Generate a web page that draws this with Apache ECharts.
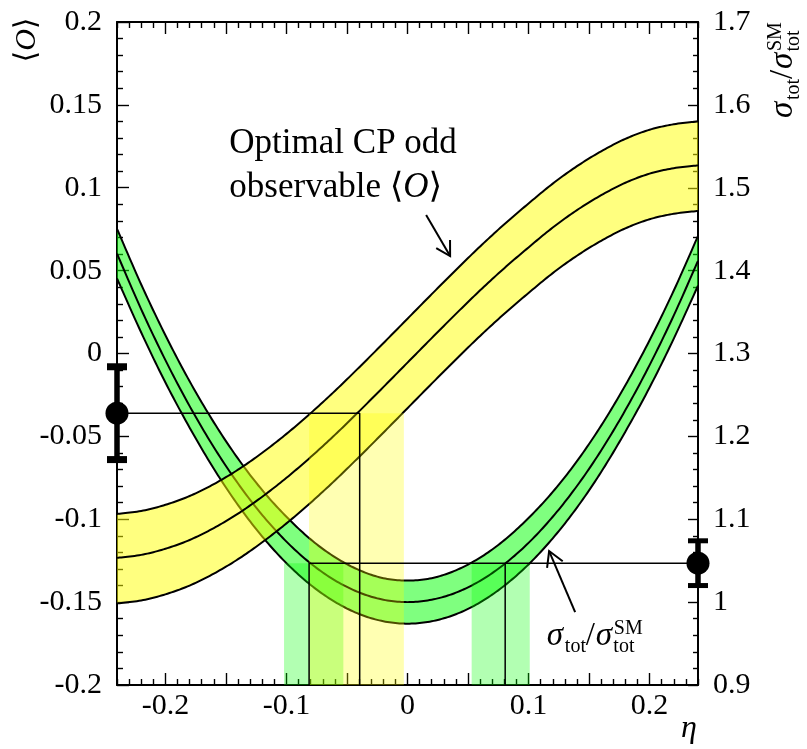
<!DOCTYPE html>
<html><head><meta charset="utf-8">
<script src="https://cdn.jsdelivr.net/npm/echarts@6/dist/echarts.min.js"></script>
<style>html,body{margin:0;padding:0;background:#fff}#c{width:807px;height:749px}</style>
</head><body><div id="c"></div>
<script>
// ---------------- data ----------------
const eta = [-0.24,-0.22,-0.20,-0.18,-0.16,-0.14,-0.12,-0.10,-0.08,-0.06,-0.04,-0.02,0,0.02,0.04,0.06,0.08,0.10,0.12,0.14,0.16,0.18,0.20,0.22,0.24];
// optimal CP-odd observable <O> (left axis)
const oCenter = [-0.1233,-0.1215,-0.1178,-0.1125,-0.1053,-0.0966,-0.0864,-0.0750,-0.0625,-0.0491,-0.0349,-0.0203,-0.0055,0.0093,0.0239,0.0381,0.0515,0.0640,0.0760,0.0865,0.0955,0.1030,0.1085,0.1118,0.1135];
const oUpper  = [-0.0968,-0.0950,-0.0913,-0.0860,-0.0788,-0.0701,-0.0599,-0.0485,-0.0360,-0.0226,-0.0084,0.0062,0.0210,0.0358,0.0504,0.0646,0.0780,0.0905,0.1025,0.1130,0.1220,0.1295,0.1350,0.1383,0.1400];
const oLower  = [-0.1508,-0.1490,-0.1453,-0.1400,-0.1328,-0.1241,-0.1139,-0.1025,-0.0900,-0.0766,-0.0624,-0.0478,-0.0330,-0.0182,-0.0036,0.0106,0.0240,0.0365,0.0485,0.0590,0.0680,0.0755,0.0810,0.0843,0.0860];
// sigma_tot / sigma_tot^SM (right axis)
const sCenter = [1.4205,1.3533,1.2920,1.2365,1.1869,1.1431,1.1051,1.0730,1.0467,1.0263,1.0117,1.0029,1.0000,1.0029,1.0114,1.0257,1.0458,1.0715,1.1030,1.1401,1.1830,1.2317,1.2860,1.3460,1.4118];
const sUpper  = [1.4505,1.3833,1.3220,1.2665,1.2169,1.1731,1.1351,1.1030,1.0757,1.0543,1.0387,1.0289,1.0260,1.0289,1.0384,1.0537,1.0748,1.1015,1.1330,1.1701,1.2130,1.2617,1.3160,1.3760,1.4418];
const sLower  = [1.3905,1.3253,1.2650,1.2105,1.1609,1.1171,1.0791,1.0470,1.0207,1.0003,0.9857,0.9769,0.9740,0.9769,0.9854,0.9997,1.0198,1.0455,1.0770,1.1141,1.1570,1.2057,1.2590,1.3180,1.3818];
// measurements: [eta position, value, error]
const oMeasurement = [-0.24, -0.036, 0.028];
const sMeasurement = [0.24, 1.047, 0.027];
// eta where the central curves meet the measured values
const oCross = -0.0395;
const sCross = [-0.0813, 0.0807];
// allowed eta ranges: [eta from, eta to, value top, value bottom]
const yellowRanges = [[-0.0813, -0.003, -0.036, -0.2]];
const greenRanges = [[-0.102, -0.053, 1.047, 0.9], [0.053, 0.101, 1.047, 0.9]];
// tick labels
const xLabels = [-0.2,-0.1,0,0.1,0.2];
const xMajor = [-0.2,-0.15,-0.1,-0.05,0,0.05,0.1,0.15,0.2];
const xMinor = []; for (let i = -24; i <= 24; i++) if (i % 5 !== 0) xMinor.push(i / 100);

// ---------------- chart ----------------
const FONT = "'Liberation Serif','Times New Roman','DejaVu Serif',serif";
const chart = echarts.init(document.getElementById('c'), null, {renderer: 'canvas'});

function catmull(pts, n) {
  const out = [];
  for (let i = 0; i < pts.length - 1; i++) {
    const p0 = pts[i > 0 ? i - 1 : 0], p1 = pts[i], p2 = pts[i + 1], p3 = pts[i + 2 < pts.length ? i + 2 : pts.length - 1];
    for (let k = 0; k < n; k++) {
      const t = k / n, t2 = t * t, t3 = t2 * t;
      const f = (a, b, c, d) => 0.5 * ((2 * b) + (-a + c) * t + (2 * a - 5 * b + 4 * c - d) * t2 + (-a + 3 * b - 3 * c + d) * t3);
      out.push([f(p0[0], p1[0], p2[0], p3[0]), f(p0[1], p1[1], p2[1], p3[1])]);
    }
  }
  out.push(pts[pts.length - 1]);
  return out;
}

function bandSeries(yIdx, up, mid, lo, fill) {
  return {
    type: 'custom', yAxisIndex: yIdx, clip: false, silent: true,
    data: eta.map((e, i) => [e, mid[i]]), encode: {x: 0, y: 1},
    renderItem(params, api) {
      if (params.dataIndex !== 0) return null;
      const pu = catmull(eta.map((e, i) => api.coord([e, up[i]])), 12);
      const pm = catmull(eta.map((e, i) => api.coord([e, mid[i]])), 12);
      const pl = catmull(eta.map((e, i) => api.coord([e, lo[i]])), 12);
      const ls = {stroke: '#000', lineWidth: 2, fill: 'none'};
      return {type: 'group', children: [
        {type: 'polygon', shape: {points: pu.concat(pl.slice().reverse())}, style: {fill: fill}},
        {type: 'polyline', shape: {points: pu}, style: ls},
        {type: 'polyline', shape: {points: pm}, style: ls},
        {type: 'polyline', shape: {points: pl}, style: ls}
      ]};
    }
  };
}

function rangeSeries(yIdx, ranges, fill) {
  return {
    type: 'custom', yAxisIndex: yIdx, clip: false, silent: true,
    data: ranges, encode: {x: [0, 1], y: [2, 3]},
    renderItem(params, api) {
      const a = api.coord([api.value(0), api.value(2)]);
      const b = api.coord([api.value(1), api.value(3)]);
      return {type: 'rect', shape: {x: a[0], y: a[1], width: b[0] - a[0], height: b[1] - a[1]}, style: {fill: fill}};
    }
  };
}

function errSeries(yIdx, m, capW) {
  return {
    type: 'custom', yAxisIndex: yIdx, clip: false, silent: true, z: 5,
    data: [m], encode: {x: 0, y: 1},
    renderItem(params, api) {
      const x = api.value(0), y = api.value(1), e = api.value(2);
      const t = api.coord([x, y + e]), b = api.coord([x, y - e]);
      const st = {stroke: '#000', lineWidth: 5.5};
      const cs = {stroke: '#000', lineWidth: capW};
      return {type: 'group', children: [
        {type: 'line', shape: {x1: t[0], y1: t[1], x2: b[0], y2: b[1]}, style: st},
        {type: 'line', shape: {x1: t[0] - 10, y1: t[1], x2: t[0] + 10, y2: t[1]}, style: cs},
        {type: 'line', shape: {x1: b[0] - 10, y1: b[1], x2: b[0] + 10, y2: b[1]}, style: cs}
      ]};
    }
  };
}

function lineSeries(yIdx, pts) {
  return {type: 'line', yAxisIndex: yIdx, data: pts, symbol: 'none', silent: true, clip: false, z: 4,
    lineStyle: {color: '#000', width: 1.5}};
}

const tickStyle = {color: '#000', width: 1.4};
function xAx(pos, ticks, len, labels, line) {
  return {type: 'value', min: -0.24, max: 0.24, position: pos,
    axisLine: {show: line, onZero: false, lineStyle: {color: '#000', width: 2}},
    axisTick: {show: true, inside: true, length: len, customValues: ticks, lineStyle: tickStyle},
    axisLabel: labels ? {show: true, customValues: labels, margin: 6, color: '#000', fontSize: 30, fontFamily: FONT} : {show: false},
    splitLine: {show: false}, minorTick: {show: false}};
}
function yAx(pos, min, max, interval, len, mlen, margin) {
  return {type: 'value', min: min, max: max, interval: interval, position: pos,
    axisLine: {show: true, onZero: false, lineStyle: {color: '#000', width: 2}},
    axisTick: {show: true, inside: true, length: len, lineStyle: tickStyle},
    minorTick: {show: true, splitNumber: 5, length: mlen, lineStyle: tickStyle},
    axisLabel: {show: true, margin: margin, color: '#000', fontSize: 30, fontFamily: FONT},
    splitLine: {show: false}, minorSplitLine: {show: false}};
}

chart.setOption({
  animation: false,
  backgroundColor: '#fff',
  grid: {left: 117, right: 109, top: 22, bottom: 64, containLabel: false, outerBoundsMode: 'none'},
  xAxis: [
    xAx('bottom', xMajor, 12, xLabels, true),
    xAx('bottom', xMinor, 6, null, false),
    xAx('top', xMajor, 12, null, true),
    xAx('top', xMinor, 6, null, false)
  ],
  yAxis: [
    yAx('left', -0.2, 0.2, 0.05, 12, 6, 15),
    yAx('right', 0.9, 1.7, 0.1, 10, 5, 15)
  ],
  series: [
    bandSeries(1, sUpper, sCenter, sLower, 'rgba(0,255,0,0.5)'),
    bandSeries(0, oUpper, oCenter, oLower, 'rgba(255,255,0,0.5)'),
    rangeSeries(1, greenRanges, 'rgba(0,255,0,0.3)'),
    rangeSeries(0, yellowRanges, 'rgba(255,255,0,0.3)'),
    lineSeries(0, [[oMeasurement[0], oMeasurement[1]], [oCross, oMeasurement[1]], [oCross, -0.2]]),
    lineSeries(1, [[sMeasurement[0], sMeasurement[1]], [sCross[0], sMeasurement[1]], [sCross[0], 0.9]]),
    lineSeries(1, [[sCross[1], sMeasurement[1]], [sCross[1], 0.9]]),
    errSeries(0, oMeasurement, 7),
    errSeries(1, sMeasurement, 5),
    {type: 'scatter', yAxisIndex: 0, clip: false, silent: true, z: 6, symbol: 'circle', symbolSize: 23,
      itemStyle: {color: '#000', opacity: 1}, data: [[oMeasurement[0], oMeasurement[1]]]},
    {type: 'scatter', yAxisIndex: 1, clip: false, silent: true, z: 6, symbol: 'circle', symbolSize: 23,
      itemStyle: {color: '#000', opacity: 1}, data: [[sMeasurement[0], sMeasurement[1]]]}
  ]
});

// ---------------- annotations ----------------
const toO = p => chart.convertToPixel({xAxisIndex: 0, yAxisIndex: 0}, p);
const toS = p => chart.convertToPixel({xAxisIndex: 0, yAxisIndex: 1}, p);

function txt(s, x, baseline, fs, italic, extra) {
  const st = {text: s, fontSize: fs, fontFamily: FONT, fontStyle: italic ? 'italic' : 'normal', fill: '#000', align: 'left', verticalAlign: 'middle'};
  return {type: 'text', x: x, y: baseline - 0.3375 * fs, silent: true, style: Object.assign(st, extra || {})};
}
function arrow(p0, p1, len) {
  const dx = p1[0] - p0[0], dy = p1[1] - p0[1], L = Math.hypot(dx, dy);
  const bx = -dx / L, by = -dy / L, a = Math.PI / 6;
  const w = s => [p1[0] + len * (bx * Math.cos(s * a) - by * Math.sin(s * a)), p1[1] + len * (bx * Math.sin(s * a) + by * Math.cos(s * a))];
  return [
    {type: 'line', silent: true, shape: {x1: p0[0], y1: p0[1], x2: p1[0], y2: p1[1]}, style: {stroke: '#000', lineWidth: 2}},
    {type: 'polyline', silent: true, shape: {points: [w(1), p1, w(-1)]}, style: {stroke: '#000', lineWidth: 2, fill: 'none'}}
  ];
}
function sigmaRatio() {
  return [
    txt('σ', 0, 0, 33, true),
    txt('tot', 18, 6.5, 20, false),
    txt('/', 39, 0, 33, false),
    txt('σ', 49, 0, 33, true),
    txt('tot', 66.5, 6.5, 20, false),
    txt('SM', 67, -12, 20, false)
  ];
}

const line1 = toO([-0.1472, 0.1193]);
const line2 = toO([-0.1472, 0.0926]);
const sLab = toS([0.1151, 0.9458]);

chart.setOption({
  graphic: [].concat(
    [txt('Optimal CP odd', line1[0], line1[1], 35, false)],
    [txt('observable ⟨{o|O}⟩', line2[0], line2[1], 35, false, {rich: {o: {fontStyle: 'italic', fontSize: 35, fontFamily: FONT}}})],
    arrow(toO([0.0154, 0.0836]), toO([0.0352, 0.0588]), 16),
    arrow(toS([0.1385, 0.988]), toS([0.117, 1.0616]), 17),
    [{type: 'group', x: sLab[0], y: sLab[1], silent: true, children: sigmaRatio()}],
    [{type: 'group', x: 794, y: 118, rotation: Math.PI / 2, silent: true, children: sigmaRatio()}],
    [{type: 'text', x: 27, y: 40, rotation: Math.PI / 2, silent: true,
      style: {text: '⟨{o|O}⟩', fontSize: 30, fontFamily: FONT, fill: '#000', align: 'center', verticalAlign: 'middle',
        rich: {o: {fontStyle: 'italic', fontSize: 30, fontFamily: FONT}}}}],
    [txt('η', 681, 739, 32, true)]
  )
});
</script>
</body></html>
